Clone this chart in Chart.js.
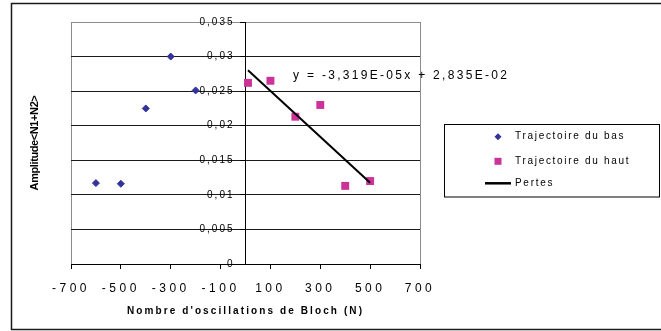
<!DOCTYPE html>
<html><head><meta charset="utf-8">
<script src="https://cdn.jsdelivr.net/npm/chart.js@4/dist/chart.umd.min.js"></script>
<style>html,body{margin:0;padding:0;background:#fff}canvas{display:block}</style>
</head><body>
<canvas id="c" width="661" height="331"></canvas>
<script>
// ---- data ----
const basLabel = 'Trajectoire du bas';
const basX = [-600, -500, -400, -300, -200];
const basY = [0.0117, 0.0116, 0.0225, 0.0300, 0.0251];

const hautLabel = 'Trajectoire du haut';
const hautX = [10, 100, 200, 300, 400, 500];
const hautY = [0.0262, 0.0265, 0.0213, 0.0230, 0.0113, 0.0120];

const trendLabel = 'Pertes';
const trendX = [10, 500];
const trendY = [0.02802, 0.01176];
const trendEquation = 'y = -3,319E-05x + 2,835E-02';

const xTickValues = [-700, -500, -300, -100, 100, 300, 500, 700];
const xTickLabels = ['-700', '-500', '-300', '-100', '100', '300', '500', '700'];
const yTickValues = [0, 0.005, 0.01, 0.015, 0.02, 0.025, 0.03, 0.035];
const yTickLabels = ['0', '0,005', '0,01', '0,015', '0,02', '0,025', '0,03', '0,035'];

const xTitle = "Nombre d'oscillations de Bloch (N)";
const yTitle = 'Amplitude<N1+N2>';

// ---- chart ----
const FONT = '"Liberation Sans", Arial, Helvetica, sans-serif';
Chart.defaults.font.family = FONT;
Chart.defaults.color = '#000';

const pts = (xs, ys) => xs.map((x, i) => ({x: x, y: ys[i]}));

const spacingPlugin = {
  id: 'spacing',
  afterLayout(chart) {
    const cfg = {x: {labels: '3.5px', title: '2.1px', dx: 0}, y: {labels: '2px', title: '0px', dx: -11}};
    Object.keys(cfg).forEach(id => {
      const s = chart.scales[id];
      if (!s || s._lsWrapped) return;
      s._lsWrapped = true;
      const dl = s.drawLabels, dt = s.drawTitle;
      s.drawLabels = function (a) {
        const c = this.ctx; c.save(); c.letterSpacing = cfg[id].labels; c.translate(cfg[id].dx, 0);
        dl.call(this, a); c.restore();
      };
      s.drawTitle = function (a) { const c = this.ctx; c.save(); c.letterSpacing = cfg[id].title; dt.call(this, a); c.restore(); };
    });
  }
};

const framePlugin = {
  id: 'frame',
  beforeDraw(chart) {
    const ctx = chart.ctx, a = chart.chartArea;
    ctx.save();
    ctx.fillStyle = '#fff';
    ctx.fillRect(0, 0, chart.width, chart.height);
    ctx.strokeStyle = '#1a1a1a';
    ctx.lineWidth = 1.5;
    ctx.strokeRect(11.5, 3.5, 700, 326);
    ctx.strokeStyle = '#8c8c8c';
    ctx.lineWidth = 1;
    ctx.strokeRect(Math.round(a.left) + 0.5, Math.round(a.top) + 0.5, Math.round(a.right - a.left), Math.round(a.bottom - a.top));
    ctx.restore();
  }
};

const annotPlugin = {
  id: 'annot',
  afterDraw(chart) {
    const ctx = chart.ctx;
    ctx.save();
    // equation of the trend line
    ctx.fillStyle = '#000';
    ctx.font = '12px ' + FONT;
    ctx.letterSpacing = '2.3px';
    ctx.textAlign = 'left';
    ctx.textBaseline = 'middle';
    ctx.fillText(trendEquation, 293, 76);
    // y axis title
    ctx.save();
    ctx.translate(35, 143);
    ctx.rotate(-Math.PI / 2);
    ctx.font = 'bold 11px ' + FONT;
    ctx.letterSpacing = '-0.4px';
    ctx.textAlign = 'center';
    ctx.fillText(yTitle, 0, 0);
    ctx.restore();
    // legend box
    ctx.letterSpacing = '1.7px';
    ctx.font = '10px ' + FONT;
    ctx.strokeStyle = '#000';
    ctx.lineWidth = 1;
    ctx.strokeRect(444.5, 124.5, 215, 72.5);
    const rows = [136.7, 161.3, 183.3];
    chart.data.datasets.forEach((ds, i) => {
      const y = rows[i], cx = 498;
      ctx.fillStyle = ds.backgroundColor;
      ctx.strokeStyle = ds.borderColor;
      if (ds.pointStyle === 'rectRot') {
        ctx.beginPath();
        ctx.moveTo(cx, y - 3.5); ctx.lineTo(cx + 3.5, y); ctx.lineTo(cx, y + 3.5); ctx.lineTo(cx - 3.5, y);
        ctx.closePath(); ctx.fill();
      } else if (ds.pointStyle === 'rect') {
        ctx.fillRect(cx - 3.5, y - 3.5, 7, 7);
      } else {
        ctx.lineWidth = 2.5;
        ctx.beginPath(); ctx.moveTo(485, y); ctx.lineTo(511, y); ctx.stroke();
      }
      ctx.fillStyle = '#000';
      ctx.fillText(ds.label, 515, y);
    });
    ctx.restore();
  }
};

new Chart(document.getElementById('c'), {
  type: 'scatter',
  data: {
    datasets: [
      {label: basLabel, data: pts(basX, basY), pointStyle: 'rectRot', pointRadius: 3.5, pointBorderWidth: 1,
       backgroundColor: '#333399', borderColor: '#333399', order: 1},
      {label: hautLabel, data: pts(hautX, hautY), pointStyle: 'rect', pointRadius: 5.6, pointBorderWidth: 0,
       backgroundColor: '#cc3399', borderColor: '#cc3399', order: 1},
      {label: trendLabel, type: 'line', data: pts(trendX, trendY), showLine: true, pointRadius: 0,
       borderColor: '#000', backgroundColor: '#000', borderWidth: 2, fill: false, order: 0}
    ]
  },
  options: {
    responsive: false,
    animation: false,
    events: [],
    layout: {padding: {left: 71, right: 241, top: 22, bottom: 0}},
    plugins: {legend: {display: false}, tooltip: {enabled: false}},
    scales: {
      x: {
        type: 'linear', position: 'bottom', min: -700, max: 700,
        afterBuildTicks: s => { s.ticks = xTickValues.map(v => ({value: v})); },
        afterFit: s => { s.height = 67; },
        grid: {drawOnChartArea: false, drawTicks: true, tickLength: 5, tickColor: '#000', color: '#000'},
        border: {display: true, color: '#000', width: 1},
        ticks: {font: {size: 12}, color: '#000', padding: 12, maxRotation: 0, autoSkip: false,
                callback: (v, i) => xTickLabels[i]},
        title: {display: true, text: xTitle, font: {size: 10, weight: 'bold'}, color: '#000',
                padding: {top: 0, bottom: 14}}
      },
      y: {
        type: 'linear', position: {x: 0}, min: 0, max: 0.035,
        afterBuildTicks: s => { s.ticks = yTickValues.map(v => ({value: v})); },
        grid: {drawTicks: true, tickLength: 5, tickColor: '#000',
               color: c => (c.tick && c.tick.value > 0.034) ? '#8c8c8c' : '#1a1a1a'},
        border: {display: true, color: '#000', width: 1},
        ticks: {font: {size: 10}, color: '#000', padding: 6, callback: (v, i) => yTickLabels[i]}
      }
    }
  },
  plugins: [spacingPlugin, framePlugin, annotPlugin]
});
</script>
</body></html>
